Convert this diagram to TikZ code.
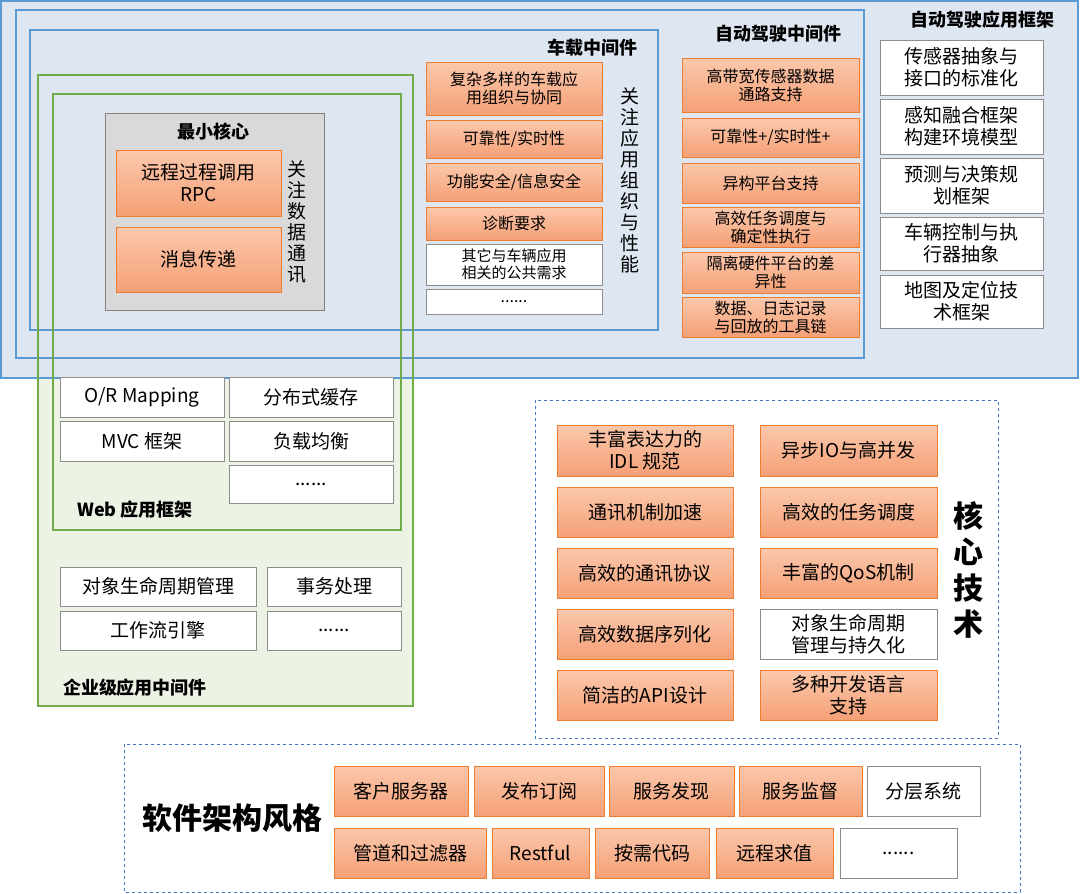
\documentclass[tikz,border=0pt]{standalone}
\usepackage{fontspec}
\setmainfont{Noto Sans CJK SC}
\begin{document}
\begin{tikzpicture}[x=1pt,y=-1pt]
\definecolor{bfr}{RGB}{91,155,213}
\definecolor{bfill}{RGB}{222,230,242}
\definecolor{gfr}{RGB}{112,173,71}
\definecolor{gfill}{RGB}{236,242,228}
\definecolor{ofr}{RGB}{237,125,49}
\definecolor{otop}{RGB}{251,200,172}
\definecolor{obot}{RGB}{245,160,118}
\definecolor{dfr}{RGB}{68,114,196}
\tikzset{
 ob/.style={draw=ofr,top color=otop,bottom color=obot,line width=0.8pt,inner sep=0pt,align=center,font=\fontsize{19}{22}\selectfont},
 wb/.style={draw=black!45,fill=white,line width=0.8pt,inner sep=0pt,align=center,font=\fontsize{19}{22}\selectfont},
 sm/.style={font=\fontsize{16}{18}\selectfont},
 ttl/.style={font=\bfseries\fontsize{18}{20}\selectfont},
 vt/.style={align=center,font=\fontsize{19}{21}\selectfont,inner sep=0pt}
}
\newcommand\bx[7]{\node[#1,minimum width=#4pt-#2pt,minimum height=#5pt-#3pt] (#6) at ({(#2+#4)/2},{(#3+#5)/2}) {#7};}
\useasboundingbox (0,0) rectangle (1080,894);
\fill[white] (0,0) rectangle (1080,894);
% enterprise fill
\fill[gfill] (38,75) rectangle (413,706);
% outer blue
\draw[bfr,fill=bfill,line width=1.5pt] (1,1) rectangle (1078,378);
\draw[bfr,line width=1.5pt] (16,10) rectangle (864,358);
\draw[bfr,line width=1.5pt] (30,30) rectangle (658,330);
\draw[gfr,line width=1.5pt] (38,75) rectangle (413,706);
\draw[gfr,line width=1.5pt] (53,94) rectangle (401,530);
\node[ttl] (t1) at (982,20) {自动驾驶应用框架};
\node[ttl] (t2) at (778,34) {自动驾驶中间件};
\node[ttl] (t3) at (592,48) {车载中间件};
\node[ttl] (t4) at (135,688) {企业级应用中间件};
\node[ttl] (t5) at (135,510) {Web 应用框架};
% core
\draw[black!50,fill=black!15,line width=0.8pt] (105,113) rectangle (324,310);
\node[ttl] (t6) at (213,132) {最小核心};
\bx{ob}{116}{150}{281}{216}{c1}{远程过程调用\\RPC}
\bx{ob}{116}{227}{281}{292}{c2}{消息传递}
\node[vt] (v1) at (297,222) {关\\注\\数\\据\\通\\讯};
% vehicle
\bx{ob,sm}{426}{62}{602}{115}{a1}{复杂多样的车载应\\用组织与协同}
\bx{ob,sm}{426}{120}{602}{158}{a2}{可靠性/实时性}
\bx{ob,sm}{426}{163}{602}{201}{a3}{功能安全/信息安全}
\bx{ob,sm}{426}{207}{602}{240}{a4}{诊断要求}
\bx{wb,font=\fontsize{15}{17}\selectfont}{426}{244}{602}{285}{a5}{其它与车辆应用\\相关的公共需求}
\bx{wb,sm}{426}{289}{602}{314}{a6}{......}
\node[vt] (v2) at (630,180) {关\\注\\应\\用\\组\\织\\与\\性\\能};
% autonomous
\bx{ob,sm}{682}{58}{859}{112}{b1}{高带宽传感器数据\\通路支持}
\bx{ob,sm}{682}{118}{859}{157}{b2}{可靠性+/实时性+}
\bx{ob,sm}{682}{163}{859}{203}{b3}{异构平台支持}
\bx{ob,sm}{682}{207}{859}{247}{b4}{高效任务调度与\\确定性执行}
\bx{ob,sm}{682}{252}{859}{293}{b5}{隔离硬件平台的差\\异性}
\bx{ob,sm}{682}{297}{859}{337}{b6}{数据、日志记录\\与回放的工具链}
% app framework
\bx{wb}{880}{40}{1043}{95}{d1}{传感器抽象与\\接口的标准化}
\bx{wb}{880}{99}{1043}{154}{d2}{感知融合框架\\构建环境模型}
\bx{wb}{880}{158}{1043}{213}{d3}{预测与决策规\\划框架}
\bx{wb}{880}{217}{1043}{270}{d4}{车辆控制与执\\行器抽象}
\bx{wb}{880}{275}{1043}{328}{d5}{地图及定位技\\术框架}
% web
\bx{wb}{60}{377}{224}{417}{w1}{O/R Mapping}
\bx{wb}{229}{377}{393}{417}{w2}{分布式缓存}
\bx{wb}{60}{421}{224}{461}{w3}{MVC 框架}
\bx{wb}{229}{421}{393}{461}{w4}{负载均衡}
\bx{wb}{229}{465}{393}{503}{w5}{......}
% enterprise
\bx{wb}{60}{567}{256}{606}{e1}{对象生命周期管理}
\bx{wb}{267}{567}{401}{606}{e2}{事务处理}
\bx{wb}{60}{611}{256}{650}{e3}{工作流引擎}
\bx{wb}{267}{611}{401}{650}{e4}{......}
% core tech
\draw[dfr,dashed,line width=1pt] (535,400) rectangle (998,738);
\node[vt,font=\bfseries\fontsize{30}{36}\selectfont] (ct) at (968,570) {核\\心\\技\\术};
\bx{ob}{557}{425}{733}{476}{k1}{丰富表达力的\\IDL 规范}
\bx{ob}{557}{487}{733}{537}{k2}{通讯机制加速}
\bx{ob}{557}{548}{733}{598}{k3}{高效的通讯协议}
\bx{ob}{557}{609}{733}{659}{k4}{高效数据序列化}
\bx{ob}{557}{670}{733}{720}{k5}{简洁的API设计}
\bx{ob}{760}{425}{937}{476}{k6}{异步IO与高并发}
\bx{ob}{760}{487}{937}{537}{k7}{高效的任务调度}
\bx{ob}{760}{548}{937}{598}{k8}{丰富的QoS机制}
\bx{wb}{760}{609}{937}{659}{k9}{对象生命周期\\管理与持久化}
\bx{ob}{760}{670}{937}{720}{k10}{多种开发语言\\支持}
% architecture
\draw[dfr,dashed,line width=1pt] (124,744) rectangle (1020,892);
\node[font=\bfseries\fontsize{30}{36}\selectfont] (at) at (232,818) {软件架构风格};
\bx{ob}{334}{766}{468}{816}{s1}{客户服务器}
\bx{ob}{474}{766}{604}{816}{s2}{发布订阅}
\bx{ob}{609}{766}{734}{816}{s3}{服务发现}
\bx{ob}{739}{766}{862}{816}{s4}{服务监督}
\bx{wb}{867}{766}{980}{816}{s5}{分层系统}
\bx{ob}{334}{828}{486}{878}{s6}{管道和过滤器}
\bx{ob}{492}{828}{589}{878}{s7}{Restful}
\bx{ob}{595}{828}{709}{878}{s8}{按需代码}
\bx{ob}{716}{828}{833}{878}{s9}{远程求值}
\bx{wb}{840}{828}{957}{878}{s10}{......}
\end{tikzpicture}
\end{document}
